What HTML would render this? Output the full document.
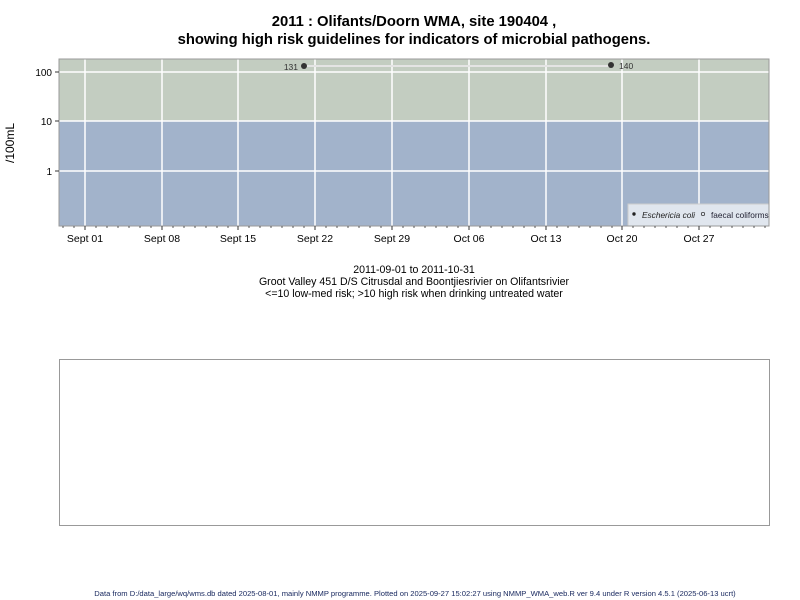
<!DOCTYPE html>
<html><head><style>body{margin:0;background:#fff}svg{display:block}</style></head><body>
<svg width="800" height="600" xmlns="http://www.w3.org/2000/svg" font-family="Liberation Sans, sans-serif">
<rect width="800" height="600" fill="#fff"/>
<text x="414" y="26" font-size="14.8" font-weight="bold" text-anchor="middle">2011 : Olifants/Doorn WMA, site 190404 ,</text>
<text x="414" y="44" font-size="14.8" font-weight="bold" text-anchor="middle">showing high risk guidelines for indicators of microbial pathogens.</text>
<rect x="59" y="59" width="710" height="62" fill="#c3cdc1"/>
<rect x="59" y="121" width="710" height="105" fill="#a2b3cb"/>
<g stroke="#fff" stroke-width="1.5">
<line x1="59" x2="769" y1="72" y2="72"/><line x1="59" x2="769" y1="121" y2="121"/><line x1="59" x2="769" y1="171" y2="171"/>
<line x1="85" x2="85" y1="59" y2="226"/><line x1="162" x2="162" y1="59" y2="226"/><line x1="238" x2="238" y1="59" y2="226"/><line x1="315" x2="315" y1="59" y2="226"/><line x1="392" x2="392" y1="59" y2="226"/><line x1="469" x2="469" y1="59" y2="226"/><line x1="546" x2="546" y1="59" y2="226"/><line x1="622" x2="622" y1="59" y2="226"/><line x1="699" x2="699" y1="59" y2="226"/>
</g>
<line x1="304" x2="611" y1="66" y2="66" stroke="#e4e4e4" stroke-width="2"/>
<circle cx="304" cy="66" r="3" fill="#333"/><circle cx="611" cy="65" r="3" fill="#333"/>
<text x="298" y="70" font-size="8.5" fill="#333" text-anchor="end">131</text>
<text x="619" y="69" font-size="8.5" fill="#333">140</text>
<rect x="628" y="204" width="141" height="22" fill="#e0e6ee" stroke="#ccc"/>
<circle cx="634" cy="214" r="1.7" fill="#222"/>
<text x="642" y="218" font-size="8.3" font-style="italic" fill="#222">Eschericia coli</text>
<circle cx="703" cy="214" r="1.7" fill="none" stroke="#222" stroke-width="0.7"/>
<text x="711" y="218" font-size="8.3" fill="#223">faecal coliforms</text>
<rect x="59" y="59" width="710" height="167" fill="none" stroke="#999"/>
<g stroke="#333"><line x1="55" x2="59" y1="72" y2="72"/><line x1="55" x2="59" y1="121" y2="121"/><line x1="55" x2="59" y1="171" y2="171"/></g>
<g font-size="10" text-anchor="end"><text x="52" y="76">100</text><text x="52" y="125">10</text><text x="52" y="175">1</text></g>
<text transform="translate(14,143) rotate(-90)" font-size="12" text-anchor="middle">/100mL</text>
<g stroke="#333">
<path d="M85 226v4M162 226v4M238 226v4M315 226v4M392 226v4M469 226v4M546 226v4M622 226v4M699 226v4"/>
<path stroke-width="0.8" d="M96 226v2M107 226v2M118 226v2M129 226v2M140 226v2M151 226v2M173 226v2M184 226v2M195 226v2M206 226v2M217 226v2M228 226v2M249 226v2M260 226v2M271 226v2M282 226v2M293 226v2M304 226v2M326 226v2M337 226v2M348 226v2M359 226v2M370 226v2M381 226v2M403 226v2M414 226v2M425 226v2M436 226v2M447 226v2M458 226v2M480 226v2M491 226v2M502 226v2M513 226v2M524 226v2M535 226v2M557 226v2M568 226v2M579 226v2M590 226v2M601 226v2M612 226v2M633 226v2M644 226v2M655 226v2M666 226v2M677 226v2M688 226v2M710 226v2M721 226v2M732 226v2M743 226v2M754 226v2M765 226v2M74 226v2M63 226v2"/>
</g>
<g font-size="10.5" text-anchor="middle"><text x="85" y="242">Sept 01</text><text x="162" y="242">Sept 08</text><text x="238" y="242">Sept 15</text><text x="315" y="242">Sept 22</text><text x="392" y="242">Sept 29</text><text x="469" y="242">Oct 06</text><text x="546" y="242">Oct 13</text><text x="622" y="242">Oct 20</text><text x="699" y="242">Oct 27</text></g>
<g font-size="10.6" text-anchor="middle"><text x="414" y="273">2011-09-01 to 2011-10-31</text><text x="414" y="285">Groot Valley 451 D/S Citrusdal and Boontjiesrivier on Olifantsrivier</text><text x="414" y="297">&lt;=10 low-med risk; &gt;10 high risk when drinking untreated water</text></g>
<rect x="59.5" y="359.5" width="710" height="166" fill="none" stroke="#999"/>
<text x="415" y="596" font-size="7.6" fill="#1a2a60" text-anchor="middle">Data from D:/data_large/wq/wms.db dated 2025-08-01, mainly NMMP programme. Plotted on 2025-09-27 15:02:27 using NMMP_WMA_web.R ver 9.4 under R version 4.5.1 (2025-06-13 ucrt)</text>
</svg>
</body></html>
